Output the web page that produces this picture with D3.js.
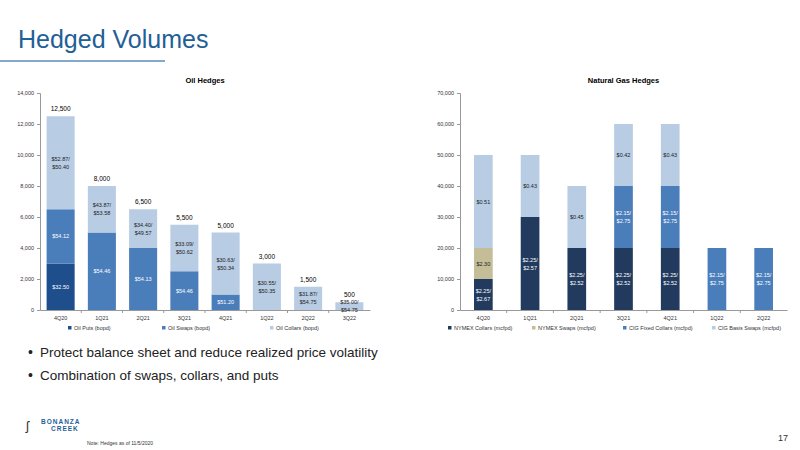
<!DOCTYPE html><html><head><meta charset="utf-8">
<script src="https://cdn.jsdelivr.net/npm/d3@7"></script>
<style>body{margin:0;background:#fff}text{font-family:Arial,"Liberation Sans",sans-serif}</style></head><body>
<svg id="c" width="800" height="450"></svg>
<script>
const oilCats=["4Q20","1Q21","2Q21","3Q21","4Q21","1Q22","2Q22","3Q22"];
const oilPuts=[3000,0,0,0,0,0,0,0];
const oilSwaps=[3500,5000,4000,2500,1000,0,0,0];
const oilCollars=[6000,3000,2500,3000,4000,3000,1500,500];
const oilPutLbl=["$32.50","","","","","","",""];
const oilSwapLbl=["$54.12","$54.46","$54.13","$54.46","$51.20","","",""];
const oilCollarLbl=["$52.87/|$50.40","$43.87/|$53.58","$34.40/|$49.57","$33.09/|$50.62","$30.63/|$50.34","$30.55/|$50.35","$31.87/|$54.75","$35.00/|$54.75"];
const oilTicks=[0,2000,4000,6000,8000,10000,12000,14000];
const gasCats=["4Q20","1Q21","2Q21","3Q21","4Q21","1Q22","2Q22"];
const gasNymCol=[10000,30000,20000,20000,20000,0,0];
const gasNymSwp=[10000,0,0,0,0,0,0];
const gasCigFix=[0,0,0,20000,20000,20000,20000];
const gasCigBas=[30000,20000,20000,20000,20000,0,0];
const gasNymColLbl=["$2.25/|$2.67","$2.25/|$2.57","$2.25/|$2.52","$2.25/|$2.52","$2.25/|$2.52","",""];
const gasNymSwpLbl=["$2.30","","","","","",""];
const gasCigFixLbl=["","","","$2.15/|$2.75","$2.15/|$2.75","$2.15/|$2.75","$2.15/|$2.75"];
const gasCigBasLbl=["$0.51","$0.43","$0.45","$0.42","$0.43","",""];
const gasTicks=[0,10000,20000,30000,40000,50000,60000,70000];

const svg=d3.select("#c");
svg.append("text").attr("x",18).attr("y",48).attr("fill","#1f6096").attr("font-size",25).text("Hedged Volumes");
svg.append("line").attr("x1",0).attr("x2",165).attr("y1",61).attr("y2",61).attr("stroke","#5b8db8").attr("stroke-width",1.5);

function chart(o){
  const x=d3.scaleBand().domain(o.cats).range(o.xr).paddingInner(o.pad).paddingOuter(o.pad/2);
  const y=d3.scaleLinear().domain([0,o.max]).range([310,93]);
  const g=svg.append("g");
  g.append("text").attr("x",(o.xr[0]+o.xr[1])/2).attr("y",83).attr("text-anchor","middle").attr("font-size",7.5).attr("font-weight","bold").text(o.title);
  const ya=g.append("g").attr("transform",`translate(${o.xr[0]},0)`).call(d3.axisLeft(y).tickValues(o.ticks).tickSize(3).tickFormat(d3.format(",")));
  const xa=g.append("g").attr("transform",`translate(0,310)`).call(d3.axisBottom(x).tickSize(0).tickPadding(6));
  [ya,xa].forEach(a=>{a.selectAll("text").attr("font-size",5.5).attr("fill","#333");a.selectAll("path,line").attr("stroke","#999");});
  // x separator ticks
  o.cats.forEach((c,i)=>{const xx=x(c)-x.step()*o.pad/2; if(i>0)g.append("line").attr("x1",xx).attr("x2",xx).attr("y1",310).attr("y2",313).attr("stroke","#999");});
  o.cats.forEach((c,i)=>{
    let acc=0;
    o.series.forEach(s=>{
      const v=s.vals[i]; if(!v)return;
      const y0=y(acc),y1=y(acc+v); acc+=v;
      g.append("rect").attr("x",x(c)).attr("width",x.bandwidth()).attr("y",y1).attr("height",y0-y1).attr("fill",s.color);
      const lines=s.lbl[i]?s.lbl[i].split("|"):[];
      const cy=(y0+y1)/2-(lines.length-1)*4;
      lines.forEach((t,k)=>g.append("text").attr("x",x(c)+x.bandwidth()/2).attr("y",cy+k*8+2).attr("text-anchor","middle").attr("font-size",5.5).attr("fill",s.tc).text(t));
    });
    if(o.totals) g.append("text").attr("x",x(c)+x.bandwidth()/2).attr("y",y(acc)-5).attr("text-anchor","middle").attr("font-size",6.5).text(d3.format(",")(acc));
  });
  // legend
  o.legend.forEach((l,i)=>{
    const lx=o.legX[i];
    g.append("rect").attr("x",lx).attr("y",326).attr("width",3.5).attr("height",3.5).attr("fill",l.color);
    g.append("text").attr("x",lx+6).attr("y",330).attr("font-size",5.5).attr("fill","#333").text(l.name);
  });
}
const dark="#1e3a8a",mid="#4a7ebb",light="#b8cce4";
chart({title:"Oil Hedges",cats:oilCats,xr:[40,370],pad:0.32,max:14000,ticks:oilTicks,totals:true,
  series:[{vals:oilPuts,color:"#1f4e8c",lbl:oilPutLbl,tc:"#fff"},{vals:oilSwaps,color:mid,lbl:oilSwapLbl,tc:"#fff"},{vals:oilCollars,color:light,lbl:oilCollarLbl,tc:"#222"}],
  legend:[{name:"Oil Puts (bopd)",color:"#1f4e8c"},{name:"Oil Swaps (bopd)",color:mid},{name:"Oil Collars (bopd)",color:light}],legX:[68,162,270]});
chart({title:"Natural Gas Hedges",cats:gasCats,xr:[460,787],pad:0.6,max:70000,ticks:gasTicks,totals:false,
  series:[{vals:gasNymCol,color:"#223a5e",lbl:gasNymColLbl,tc:"#fff"},{vals:gasNymSwp,color:"#c4bd97",lbl:gasNymSwpLbl,tc:"#222"},{vals:gasCigFix,color:mid,lbl:gasCigFixLbl,tc:"#fff"},{vals:gasCigBas,color:light,lbl:gasCigBasLbl,tc:"#222"}],
  legend:[{name:"NYMEX Collars (mcfpd)",color:"#223a5e"},{name:"NYMEX Swaps (mcfpd)",color:"#c4bd97"},{name:"CIG Fixed Collars (mcfpd)",color:mid},{name:"CIG Basis Swaps (mcfpd)",color:light}],legX:[448,532,623,712]});

["Protect balance sheet and reduce realized price volatility","Combination of swaps, collars, and puts"].forEach((t,i)=>{
  svg.append("text").attr("x",28).attr("y",357+i*23).attr("font-size",14).attr("fill","#222").text("•");
  svg.append("text").attr("x",40).attr("y",357+i*23).attr("font-size",13.5).attr("fill","#222").text(t);
});
svg.append("text").attr("x",26).attr("y",430).attr("font-size",13).attr("fill","#333").text("ʃ");
svg.append("text").attr("x",41).attr("y",424).attr("font-size",6.5).attr("font-weight","bold").attr("fill","#1f6096").attr("letter-spacing",1).text("BONANZA");
svg.append("text").attr("x",51).attr("y",431).attr("font-size",6.5).attr("font-weight","bold").attr("fill","#1f6096").attr("letter-spacing",1).text("CREEK");
svg.append("text").attr("x",87).attr("y",445).attr("font-size",5).attr("fill","#333").text("Note: Hedges as of 11/5/2020");
svg.append("text").attr("x",778).attr("y",441).attr("font-size",9).attr("fill","#333").text("17");
</script></body></html>
